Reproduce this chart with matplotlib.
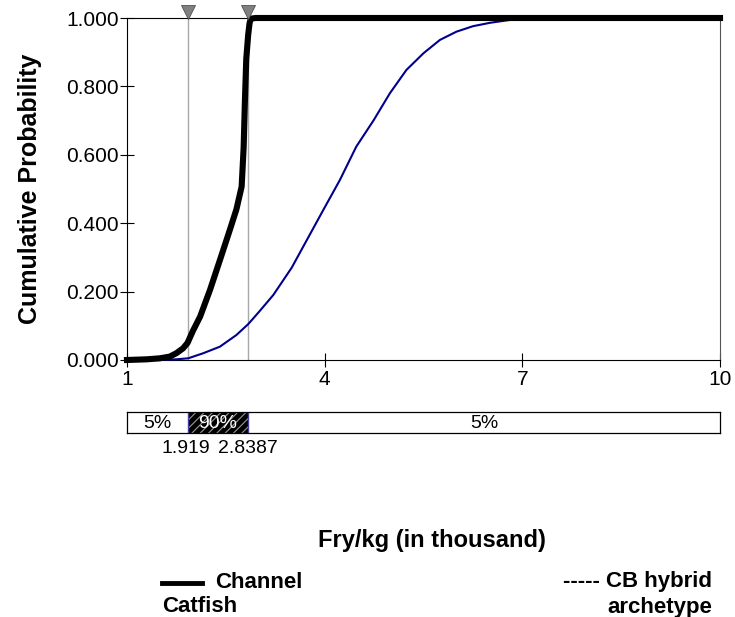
import matplotlib
matplotlib.use("Agg")
import matplotlib.pyplot as plt
from matplotlib.lines import Line2D
from matplotlib.transforms import offset_copy

plt.rcParams['font.family'] = ['Liberation Sans', 'DejaVu Sans']
plt.rcParams['hatch.linewidth'] = 0.8

# Channel Catfish cumulative distribution (fry/kg, thousands)
cc_x = [1.0, 1.3, 1.5, 1.65, 1.75, 1.85, 1.919, 2.0, 2.11, 2.26, 2.41, 2.56, 2.66,
        2.74, 2.77, 2.79, 2.81, 2.8387, 2.86, 2.88, 2.95, 10.0]
cc_y = [0.0, 0.002, 0.005, 0.01, 0.02, 0.034, 0.05, 0.085, 0.127, 0.205, 0.292, 0.38,
        0.44, 0.507, 0.62, 0.76, 0.88, 0.95, 0.985, 0.998, 1.0, 1.0]

# CB hybrid archetype cumulative distribution
cb_x = [1.0, 1.5, 1.75, 1.93, 2.16, 2.41, 2.66, 2.84, 3.0, 3.22, 3.5, 3.73, 3.98,
        4.23, 4.48, 4.74, 4.99, 5.24, 5.50, 5.75, 6.0, 6.25, 6.51, 6.8, 7.16, 8.0, 10.0]
cb_y = [0.0, 0.0, 0.002, 0.005, 0.02, 0.039, 0.073, 0.105, 0.14, 0.19, 0.27, 0.351,
        0.439, 0.526, 0.624, 0.70, 0.78, 0.848, 0.897, 0.936, 0.96, 0.976, 0.986,
        0.994, 0.999, 1.0, 1.0]

# 90% interval bounds and band labels
bounds = [1.919, 2.8387]
bound_labels = ["1.919", "2.8387"]
band_labels = ["5%", "90%", "5%"]

x_ticks = [1, 4, 7, 10]
y_ticks = [0.0, 0.2, 0.4, 0.6, 0.8, 1.0]

W, H = 735, 617
fig = plt.figure(figsize=(W / 100, H / 100), dpi=100)
ax = fig.add_axes([127 / W, 1 - 360 / H, (720 - 127) / W, (360 - 18) / H])

for b in bounds:
    ax.axvline(b, color='#a8a8a8', lw=1.0, zorder=1)

ax.plot(cb_x, cb_y, color='#00008b', lw=1.5, zorder=3, clip_on=False)
ax.plot(cc_x, cc_y, color='black', lw=4.4, zorder=4, clip_on=False,
        solid_joinstyle='round')

# marker triangles above the plot at the interval bounds
tri_tr = offset_copy(ax.transData, fig=fig, x=0, y=6, units='dots')
ax.plot(bounds, [1.0, 1.0], linestyle='none', marker='v', markersize=10,
        markerfacecolor='#808080', markeredgecolor='#505050', markeredgewidth=0.6,
        transform=tri_tr, clip_on=False, zorder=6)

ax.set_xlim(1, 10)
ax.set_ylim(0, 1)
ax.set_xticks(x_ticks)
ax.set_xticklabels([str(t) for t in x_ticks])
ax.set_yticks(y_ticks)
ax.set_yticklabels([f"{t:.3f}" for t in y_ticks])
ax.tick_params(axis='both', direction='inout', length=10, width=0.8,
               labelsize=15, colors='black')
ax.tick_params(axis='x', pad=2)
ax.tick_params(axis='y', pad=1)
for s in ax.spines.values():
    s.set_linewidth(0.8)
    s.set_color('black')
ax.spines['right'].set_color('#555555')

ax.set_ylabel("Cumulative Probability", fontsize=18, fontweight='bold', labelpad=17)

# percentile band below the plot
bx = fig.add_axes([127 / W, 1 - 433 / H, (720 - 127) / W, 21 / H])
bx.set_xlim(1, 10)
bx.set_ylim(0, 1)
edges = [1.0] + bounds + [10.0]
for i, lab in enumerate(band_labels):
    lo, hi = edges[i], edges[i + 1]
    if i == 1:
        bx.axvspan(lo, hi, facecolor='black', edgecolor='#9a9a9a', hatch='////',
                   lw=0, zorder=1)
        col = 'white'
    else:
        col = 'black'
    bx.text((lo + hi) / 2, 0.45, lab, ha='center', va='center', fontsize=14,
            color=col, zorder=3)
for b in bounds:
    bx.axvline(b, color='#4040a0', lw=1.0, zorder=2)
bx.set_xticks([])
bx.set_yticks([])
for s in bx.spines.values():
    s.set_linewidth(0.9)
shifts = [-2, 0]
for b, lab, dx in zip(bounds, bound_labels, shifts):
    tr = offset_copy(bx.transData, fig=fig, x=dx, y=0, units='dots')
    bx.text(b, -0.35, lab, ha='center', va='top', fontsize=14, transform=tr)

fig.text(432 / W, 1 - 540 / H, "Fry/kg (in thousand)", ha='center', va='center',
         fontsize=17, fontweight='bold')

# legend text
fig.add_artist(Line2D([162 / W, 202 / W], [1 - 583 / H, 1 - 583 / H],
                      color='black', lw=3.5))
fig.text(215 / W, 1 - 582 / H, "Channel", ha='left', va='center',
         fontsize=16, fontweight='bold')
fig.text(162 / W, 1 - 607 / H, "Catfish", ha='left', va='center',
         fontsize=16, fontweight='bold')
fig.text(712 / W, 1 - 582 / H, "----- CB hybrid", ha='right', va='center',
         fontsize=16, fontweight='bold')
fig.text(712 / W, 1 - 607 / H, "archetype", ha='right', va='center',
         fontsize=16, fontweight='bold')

fig.savefig("out.png", dpi=100)
